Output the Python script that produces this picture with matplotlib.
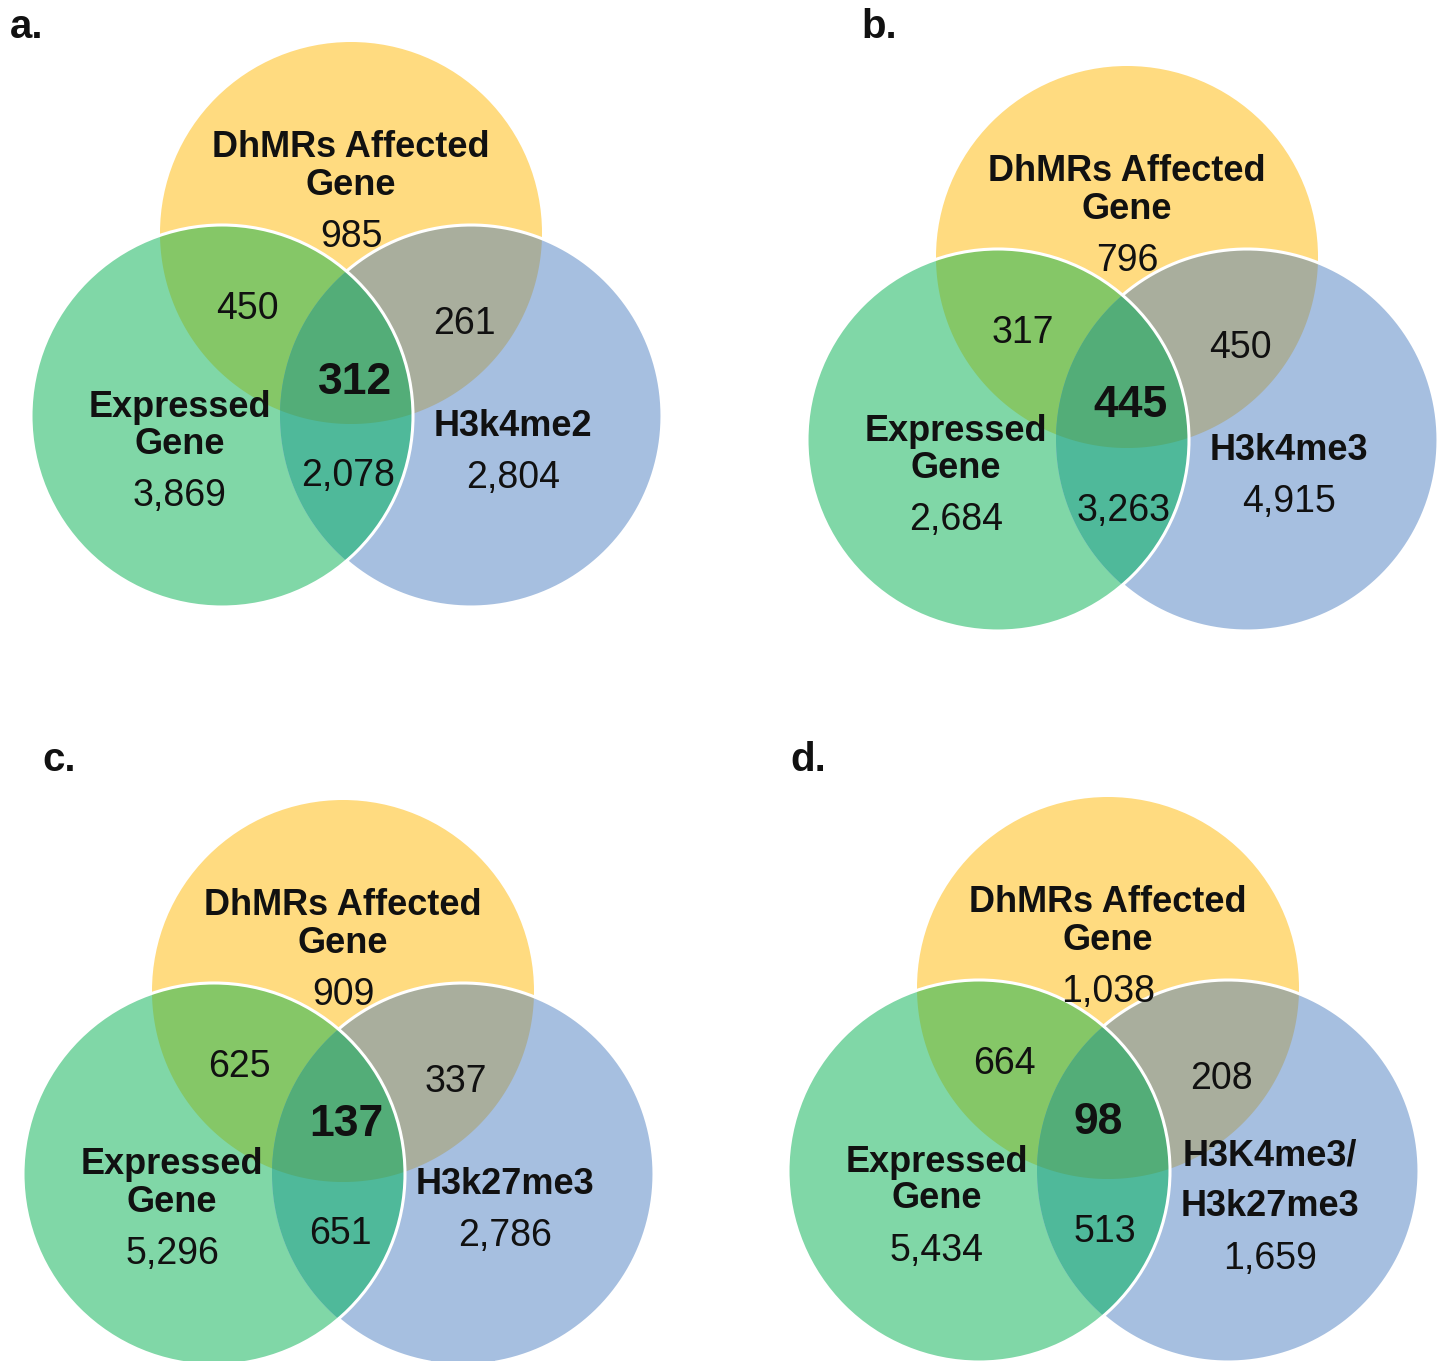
import numpy as np
import matplotlib
matplotlib.use("Agg")
import matplotlib.pyplot as plt
from matplotlib.patches import Circle, Polygon

# ---------------- data ----------------
panel_letters = ["a.", "b.", "c.", "d."]
top_label = ["DhMRs Affected", "Gene"]
left_label = ["Expressed", "Gene"]
right_labels = [["H3k4me2"], ["H3k4me3"], ["H3k27me3"], ["H3K4me3/", "H3k27me3"]]
only_top = [985, 796, 909, 1038]
top_left = [450, 317, 625, 664]
top_right = [261, 450, 337, 208]
all_three = [312, 445, 137, 98]
only_left = [3869, 2684, 5296, 5434]
left_right = [2078, 3263, 651, 513]
only_right = [2804, 4915, 2786, 1659]

# ---------------- layout (pixel coordinates) ----------------
W, H = 1442, 1361
R = 191
yellow_centers = [(351, 233), (1127, 257), (343, 991), (1108, 988)]
letter_pos = [(27, 27), (879, 27), (59, 760), (808, 760)]
center_num_dy = [149, 148, 133, 134]
center_num_dx = [4, 3, 3, -10]
lr_dy = [243, 254, 243, 244]

C_Y = "#FFDB80"
C_G = "#80D7A7"
C_B = "#A6BFE0"
C_YG = "#85C767"
C_YB = "#A9AE9D"
C_GB = "#4FB99A"
C_YGB = "#53AD78"

FONT = "Liberation Sans"

fig = plt.figure(figsize=(W / 100, H / 100), dpi=100)
ax = fig.add_axes([0, 0, 1, 1])
ax.set_xlim(0, W)
ax.set_ylim(H, 0)
ax.axis("off")


def boundary(c, r, n=3000):
    t = np.linspace(0, 2 * np.pi, n, endpoint=False)
    return np.column_stack([c[0] + r * np.cos(t), c[1] + r * np.sin(t)])


def convex_intersection(circles):
    pts = []
    for i, (c, r) in enumerate(circles):
        b = boundary(c, r)
        keep = np.ones(len(b), bool)
        for j, (c2, r2) in enumerate(circles):
            if i == j:
                continue
            keep &= np.hypot(b[:, 0] - c2[0], b[:, 1] - c2[1]) <= r2 + 1e-6
        pts.append(b[keep])
    pts = np.vstack(pts)
    m = pts.mean(axis=0)
    ang = np.arctan2(pts[:, 1] - m[1], pts[:, 0] - m[0])
    return pts[np.argsort(ang)]


def txt(x, y, s, size=27, bold=False):
    ax.text(x, y, s, ha="center", va="center", fontsize=size,
            fontweight="bold" if bold else "normal", family=FONT,
            color="#111111")


for k in range(4):
    yc = yellow_centers[k]
    gc = (yc[0] - 129, yc[1] + 183)
    bc = (yc[0] + 120, yc[1] + 183)
    Y, G, B = (yc, R), (gc, R), (bc, R)

    for (c, r), col in [(Y, C_Y), (G, C_G), (B, C_B)]:
        ax.add_patch(Circle(c, r, facecolor=col, edgecolor="none", zorder=1))
    for circs, col in [((Y, G), C_YG), ((Y, B), C_YB), ((G, B), C_GB), ((Y, G, B), C_YGB)]:
        ax.add_patch(Polygon(convex_intersection(list(circs)), closed=True,
                             facecolor=col, edgecolor="none", zorder=2))

    # white outlines: blue arc outside green, full green outline
    bb = boundary(bc, R, 4000)
    inside_g = np.hypot(bb[:, 0] - gc[0], bb[:, 1] - gc[1]) < R
    bb2 = bb.copy()
    bb2[inside_g] = np.nan
    shift = np.argmax(inside_g)
    bb2 = np.roll(bb2, -shift, axis=0)
    ax.plot(bb2[:, 0], bb2[:, 1], color="white", lw=2.2, zorder=3)
    ax.add_patch(Circle(gc, R, facecolor="none", edgecolor="white", lw=2.2, zorder=3))

    x0, y0 = yc
    # panel letter
    ax.text(letter_pos[k][0], letter_pos[k][1], panel_letters[k], ha="center", va="center",
            fontsize=29, fontweight="bold", family=FONT, color="#111111")
    # top set
    txt(x0, y0 - 86, top_label[0], size=26, bold=True)
    txt(x0, y0 - 48, top_label[1], size=26, bold=True)
    txt(x0, y0 + 4, f"{only_top[k]:,}")
    txt(x0 - 104, y0 + 76, f"{top_left[k]:,}")
    txt(x0 + 113, y0 + 91, f"{top_right[k]:,}")
    txt(x0 + center_num_dx[k], y0 + center_num_dy[k], f"{all_three[k]:,}", size=32, bold=True)
    # left set
    txt(x0 - 171, y0 + 174, left_label[0], size=26, bold=True)
    txt(x0 - 171, y0 + 211, left_label[1], size=26, bold=True)
    txt(x0 - 171, y0 + 263, f"{only_left[k]:,}")
    txt(x0 - 3, y0 + lr_dy[k], f"{left_right[k]:,}")
    # right set
    if len(right_labels[k]) == 2:
        txt(x0 + 162, y0 + 168, right_labels[k][0], size=26, bold=True)
        txt(x0 + 162, y0 + 219, right_labels[k][1], size=26, bold=True)
        txt(x0 + 162, y0 + 271, f"{only_right[k]:,}")
    else:
        txt(x0 + 162, y0 + 193, right_labels[k][0], size=26, bold=True)
        txt(x0 + 162, y0 + 245, f"{only_right[k]:,}")

fig.savefig("out.png", dpi=100, facecolor="white")
